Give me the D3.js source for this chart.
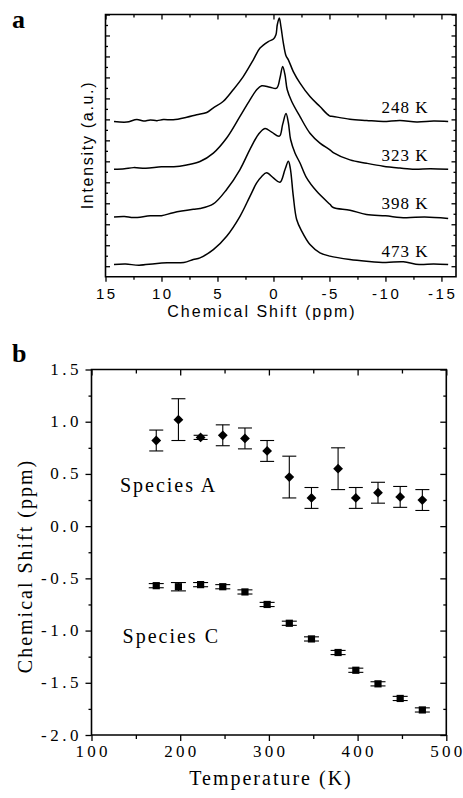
<!DOCTYPE html>
<html lang="en">
<head>
  <meta charset="UTF-8">
  <title>NMR spectra and chemical shift vs temperature</title>
  <style>
    body { margin: 0; background: white; }
    svg { display: block; }
    .sans { font-family: "Liberation Sans", Arial, sans-serif; }
    .serif { font-family: "Liberation Serif", "Times New Roman", serif; }
    .axis path { stroke: none; fill: none; }
    .axis line { stroke: black; stroke-width: 1.3; }
  </style>
  <script src="https://d3js.org/d3.v7.min.js"></script>
</head>
<body>
<div id="chart"></div>
<script>
  // ---- panel a : stacked spectra ----
  const ppmTicks = [15, 10, 5, 0, -5, -10, -15];
  const ppmMinor = [12.5, 7.5, 2.5, -2.5, -7.5, -12.5];
  const spectrumLabels = ["248 K", "323 K", "398 K", "473 K"];
  const offsets = [6.9, 4.62, 2.35, 0.08];

  // [ppm, height above own baseline (a.u.)]
  const spec248 = [
    [14.24, 0], [13.1, -0.03], [12.2, 0.1], [11.6, 0.02], [11.0, 0.07], [10.4, 0.04],
    [9.84, 0.09], [8.95, 0.08], [7.75, 0.2], [6.86, 0.32], [5.96, 0.43], [5.4, 0.64],
    [4.5, 0.95], [3.6, 1.51], [2.7, 2.14], [1.8, 2.94], [1.2, 3.5], [0.46, 3.81],
    [0.0, 3.93], [-0.22, 4.13], [-0.34, 4.61], [-0.52, 4.93], [-0.67, 4.51], [-0.88, 3.75],
    [-1.12, 3.13], [-1.33, 2.94], [-1.77, 2.38], [-2.37, 1.83], [-3.26, 1.19], [-4.15, 0.71],
    [-5.0, 0.27], [-5.34, 0.24], [-6.83, 0.11], [-8.32, 0.05], [-9.8, 0], [-11.3, 0.05],
    [-12.8, -0.02], [-14.3, 0.02], [-15.6, 0]
  ];
  const spec323 = [
    [14.24, 0], [13.3, 0.03], [12.5, 0.08], [11.4, 0.05], [10.0, 0.12], [8.9, 0.12],
    [7.75, 0.21], [6.56, 0.37], [5.37, 0.77], [4.18, 1.49], [2.99, 2.52], [2.1, 3.31],
    [1.5, 3.79], [1.05, 3.98], [0.31, 3.91], [-0.29, 3.87], [-0.58, 4.35], [-0.82, 4.9],
    [-1.03, 4.5], [-1.23, 3.79], [-1.63, 3.23], [-2.37, 2.51], [-3.26, 1.72], [-4.15, 1.25],
    [-5.04, 0.93], [-5.34, 0.8], [-6.83, 0.45], [-8.3, 0.29], [-9.8, 0.15], [-11.3, 0.06],
    [-12.6, 0.0], [-14.0, 0.03], [-15.6, 0]
  ];
  const spec398 = [
    [14.24, 0], [13.3, 0.02], [12.5, -0.03], [11.0, 0.05], [10.0, 0.06], [8.95, 0.2],
    [7.16, 0.36], [6.56, 0.4], [5.37, 0.62], [4.18, 1.31], [2.99, 2.26], [2.1, 3.22],
    [1.35, 3.93], [0.76, 4.22], [0.16, 4.04], [-0.53, 3.85], [-0.82, 4.41], [-1.12, 4.93],
    [-1.33, 4.49], [-1.53, 3.69], [-1.92, 3.05], [-2.37, 2.57], [-2.96, 1.86], [-3.86, 1.22],
    [-5.04, 0.6], [-5.34, 0.45], [-6.83, 0.32], [-8.3, 0.12], [-10.0, 0.05], [-11.8, -0.04],
    [-13.5, 0.0], [-15.6, -0.07]
  ];
  const spec473 = [
    [14.24, 0], [13.2, 0.02], [12.0, -0.03], [10.6, 0.04], [9.5, 0.08], [8.0, 0.1],
    [7.16, 0.24], [6.56, 0.32], [5.37, 0.71], [4.18, 1.35], [2.99, 2.3], [2.1, 3.25],
    [1.5, 3.89], [1.05, 4.2], [0.61, 4.37], [0.01, 4.13], [-0.58, 3.92], [-1.03, 4.53],
    [-1.33, 4.92], [-1.5, 4.6], [-1.77, 3.26], [-2.07, 2.15], [-2.52, 1.59], [-3.26, 0.95],
    [-4.15, 0.56], [-5.04, 0.4], [-6.83, 0.24], [-8.3, 0.16], [-10.0, 0.1], [-11.6, 0.13],
    [-13.0, 0.0], [-14.3, 0.03], [-15.6, 0]
  ];
  const spectra = [spec248, spec323, spec398, spec473];

  // ---- panel b : chemical shift vs temperature ----
  const tempK = [173, 198, 223, 248, 273, 298, 323, 348, 378, 398, 423, 448, 473];
  const shiftA = [0.82, 1.02, 0.85, 0.87, 0.84, 0.72, 0.47, 0.27, 0.55, 0.27, 0.32, 0.28, 0.25];
  const errA = [0.10, 0.20, 0.02, 0.10, 0.10, 0.10, 0.20, 0.10, 0.20, 0.10, 0.10, 0.10, 0.10];
  const shiftC = [-0.57, -0.58, -0.56, -0.58, -0.63, -0.75, -0.93, -1.08, -1.21, -1.38, -1.51, -1.65, -1.76];
  const errC = [0.02, 0.04, 0.02, 0.02, 0.02, 0.02, 0.02, 0.02, 0.02, 0.02, 0.02, 0.02, 0.02];
  const tempTicks = [100, 200, 300, 400, 500];
  const tempMinor = [150, 250, 350, 450];
  const shiftTicks = [1.5, 1.0, 0.5, 0.0, -0.5, -1.0, -1.5, -2.0];
  const shiftMinor = [1.25, 0.75, 0.25, -0.25, -0.75, -1.25, -1.75];

  const svg = d3.select("#chart").append("svg")
    .attr("width", 463)
    .attr("height", 798);

  svg.append("rect").attr("width", 463).attr("height", 798).attr("fill", "white");

  // one side of a frame: major + minor ticks, no labels
  function side(g, axisFn, scale, major, minor, majLen, minLen, tx, ty) {
    g.append("g").attr("class", "axis")
      .attr("transform", `translate(${tx},${ty})`)
      .call(axisFn(scale).tickValues(minor).tickSize(minLen).tickSizeOuter(0).tickFormat(""));
    g.append("g").attr("class", "axis")
      .attr("transform", `translate(${tx},${ty})`)
      .call(axisFn(scale).tickValues(major).tickSize(majLen).tickSizeOuter(0).tickFormat(""));
  }

  // box around the plot, drawn as a filled ring (outer rect minus inner rect)
  function frame(g, x, y, w) {
    const [x0, x1] = x.range(), [y0, y1] = y.range();
    const l = Math.min(x0, x1), r = Math.max(x0, x1), t = Math.min(y0, y1), b = Math.max(y0, y1);
    const h = w / 2;
    const p = d3.path();
    p.rect(l - h, t - h, r - l + w, b - t + w);
    p.rect(l + h, t + h, r - l - w, b - t - w);
    g.append("path")
      .attr("d", p.toString())
      .attr("fill", "black")
      .attr("fill-rule", "evenodd");
  }

  // ================= panel a =================
  const xA = d3.scaleLinear().domain([15, -16.3]).range([105.5, 456]);
  const yA = d3.scaleLinear().domain([-0.5, 12]).range([276.7, 14.5]);
  const yAMajor = d3.range(0, 13, 1);
  const yAMinor = d3.range(0.5, 12, 1);

  const ga = svg.append("g");
  side(ga, d3.axisBottom, xA, ppmTicks, ppmMinor, 5, 3, 0, yA(-0.5));
  side(ga, d3.axisTop, xA, ppmTicks, ppmMinor, -5, -3, 0, yA(12));
  side(ga, d3.axisLeft, yA, yAMajor, yAMinor, -4.5, -2.5, xA(15), 0);
  side(ga, d3.axisRight, yA, yAMajor, yAMinor, -4.5, -2.5, xA(-16.3), 0);
  frame(ga, xA, yA, 1.6);

  ga.selectAll(".xlab").data(ppmTicks).enter().append("text")
    .attr("class", "sans xlab")
    .attr("x", d => xA(d) + 1.25)
    .attr("y", 299)
    .attr("text-anchor", "middle")
    .style("font-size", "15px")
    .style("letter-spacing", "2.5px")
    .text(d => String(d));

  ga.append("text").attr("class", "sans")
    .attr("x", 262).attr("y", 317)
    .attr("text-anchor", "middle")
    .style("font-size", "16px").style("letter-spacing", "2px")
    .text("Chemical Shift (ppm)");

  ga.append("text").attr("class", "sans")
    .attr("transform", "translate(93,145) rotate(-90)")
    .attr("text-anchor", "middle")
    .style("font-size", "16px").style("letter-spacing", "1.7px")
    .text("Intensity (a.u.)");

  spectra.forEach((s, i) => {
    const line = d3.line()
      .x(d => xA(d[0]))
      .y(d => yA(offsets[i] + d[1]))
      .curve(d3.curveCatmullRom.alpha(0.5));
    ga.append("path")
      .attr("d", line(s))
      .attr("fill", "none")
      .attr("stroke", "black")
      .attr("stroke-width", 1.5);
    ga.append("text").attr("class", "serif")
      .attr("x", xA(-11.75))
      .attr("y", yA(offsets[i]) - 8)
      .attr("text-anchor", "middle")
      .style("font-size", "17px").style("letter-spacing", "1px")
      .text(spectrumLabels[i]);
  });

  svg.append("text").attr("class", "serif")
    .attr("x", 12).attr("y", 28)
    .style("font-size", "26px").style("font-weight", "bold")
    .text("a");

  // ================= panel b =================
  const xB = d3.scaleLinear().domain([100, 500]).range([91.5, 446.3]);
  const yB = d3.scaleLinear().domain([-2, 1.5]).range([735, 369.5]);

  const gb = svg.append("g");
  side(gb, d3.axisBottom, xB, tempTicks, tempMinor, 6, 4, 0, yB(-2));
  side(gb, d3.axisTop, xB, tempTicks, tempMinor, -6, -4, 0, yB(1.5));
  side(gb, d3.axisLeft, yB, shiftTicks, shiftMinor, 6, 3, xB(100), 0);
  side(gb, d3.axisRight, yB, shiftTicks, shiftMinor, -6, -3, xB(500), 0);
  frame(gb, xB, yB, 1.6);

  // spread digits with textLength so the last label stays inside the page
  gb.selectAll(".xlab").data(tempTicks).enter().append("text")
    .attr("class", "serif xlab")
    .attr("x", d => xB(d))
    .attr("y", 756.7)
    .attr("text-anchor", "middle")
    .attr("textLength", 32)
    .attr("lengthAdjust", "spacing")
    .style("font-size", "17px")
    .text(d => String(d));

  gb.selectAll(".ylab").data(shiftTicks).enter().append("text")
    .attr("class", "serif ylab")
    .attr("x", 82)
    .attr("y", d => yB(d) + 5.5)
    .attr("text-anchor", "end")
    .style("font-size", "17px").style("letter-spacing", "3.5px")
    .text(d => d.toFixed(1));

  gb.append("text").attr("class", "serif")
    .attr("x", 271).attr("y", 785)
    .attr("text-anchor", "middle")
    .style("font-size", "20px").style("letter-spacing", "2px")
    .text("Temperature (K)");

  gb.append("text").attr("class", "serif")
    .attr("transform", "translate(31.5,566) rotate(-90)")
    .attr("text-anchor", "middle")
    .style("font-size", "20px").style("letter-spacing", "2px")
    .text("Chemical Shift (ppm)");

  gb.append("text").attr("class", "serif")
    .attr("x", xB(132)).attr("y", yB(0.33))
    .style("font-size", "20px").style("letter-spacing", "2px")
    .text("Species A");
  gb.append("text").attr("class", "serif")
    .attr("x", xB(135)).attr("y", yB(-1.12))
    .style("font-size", "20px").style("letter-spacing", "2px")
    .text("Species C");

  function errorBars(vals, errs, cap) {
    const g = gb.append("g").attr("stroke", "black").attr("stroke-width", 1.1);
    tempK.forEach((t, i) => {
      const x = xB(t), y1 = yB(vals[i] + errs[i]), y2 = yB(vals[i] - errs[i]);
      g.append("line").attr("x1", x).attr("x2", x).attr("y1", y1).attr("y2", y2);
      g.append("line").attr("x1", x - cap).attr("x2", x + cap).attr("y1", y1).attr("y2", y1);
      g.append("line").attr("x1", x - cap).attr("x2", x + cap).attr("y1", y2).attr("y2", y2);
    });
  }
  errorBars(shiftA, errA, 7);
  errorBars(shiftC, errC, 7.5);

  gb.selectAll(".ptA").data(tempK).enter().append("path")
    .attr("class", "ptA")
    .attr("transform", (d, i) => `translate(${xB(d)},${yB(shiftA[i])}) rotate(45)`)
    .attr("d", d3.symbol().type(d3.symbolSquare).size(48))
    .attr("fill", "black");

  gb.selectAll(".ptC").data(tempK).enter().append("path")
    .attr("class", "ptC")
    .attr("transform", (d, i) => `translate(${xB(d)},${yB(shiftC[i])})`)
    .attr("d", d3.symbol().type(d3.symbolSquare).size(52))
    .attr("fill", "black");

  svg.append("text").attr("class", "serif")
    .attr("x", 12).attr("y", 362)
    .style("font-size", "26px").style("font-weight", "bold")
    .text("b");
</script>
</body>
</html>
